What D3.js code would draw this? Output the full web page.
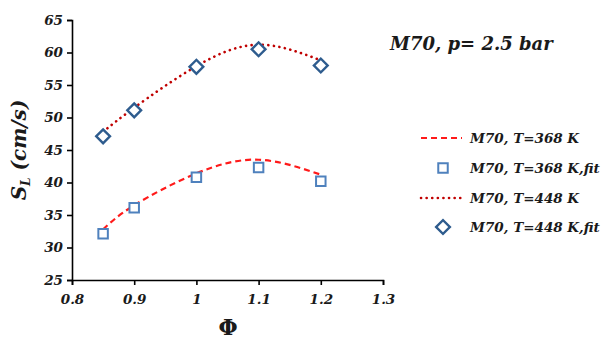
<!DOCTYPE html>
<html lang="en">
<head>
  <meta charset="UTF-8" />
  <title>M70, p = 2.5 bar</title>
  <script src="https://d3js.org/d3.v7.min.js"></script>
  <style>
    body { margin: 0; background: #fff; }
    svg text { font-family: "DejaVu Serif", serif; font-weight: bold; font-style: italic; fill: #1a1a1a; }
  </style>
</head>
<body>
  <svg id="chart" width="601" height="340"></svg>
  <script>
    // data
    const phi = [0.85, 0.9, 1.0, 1.1, 1.2];
    const fit368 = [32.8, 36.5, 41.4, 43.5, 41.2];
    const pts368 = [32.1, 36.1, 40.8, 42.3, 40.2];
    const fit448 = [47.8, 51.5, 57.9, 61.2, 58.8];
    const pts448 = [47.1, 51.1, 57.8, 60.5, 58.0];
    const xTicks = [0.8, 0.9, 1.0, 1.1, 1.2, 1.3];
    const yTicks = [25, 30, 35, 40, 45, 50, 55, 60, 65];
    const legendLabels = ["M70, T=368 K", "M70, T=368 K,fit", "M70, T=448 K", "M70, T=448 K,fit"];

    const svg = d3.select("#chart");
    const x = d3.scaleLinear().domain([0.8, 1.3]).range([72, 383]);
    const y = d3.scaleLinear().domain([25, 65]).range([280, 20]);

    // axes
    const xAxis = svg.append("g").attr("transform", "translate(0,280)")
      .call(d3.axisBottom(x).tickValues(xTicks).tickSize(5).tickFormat(d3.format("")));
    const yAxis = svg.append("g").attr("transform", "translate(72,0)")
      .call(d3.axisLeft(y).tickValues(yTicks).tickSize(5));
    [xAxis, yAxis].forEach(g => {
      g.select(".domain").attr("stroke", "#000").attr("stroke-width", 1.6);
      g.selectAll(".tick line").attr("stroke", "#000").attr("stroke-width", 1.6);
      g.selectAll(".tick text").style("font-size", "13.5px");
    });
    xAxis.selectAll(".tick text").attr("dy", "1.15em");
    yAxis.selectAll(".tick text").attr("x", -9);

    // fitted curves
    const line = d3.line().x(d => x(d[0])).y(d => y(d[1])).curve(d3.curveNatural);
    svg.append("path").datum(d3.zip(phi, fit368)).attr("d", line)
      .attr("fill", "none").attr("stroke", "#ff1a1a").attr("stroke-width", 2.2)
      .attr("stroke-dasharray", "6,4");
    svg.append("path").datum(d3.zip(phi, fit448)).attr("d", line)
      .attr("fill", "none").attr("stroke", "#c00000").attr("stroke-width", 2.6)
      .attr("stroke-dasharray", "0.1,5.5").attr("stroke-linecap", "round");

    // markers
    const square = d3.symbol().type(d3.symbolSquare).size(90);
    const diamond = d3.symbol().type(d3.symbolSquare).size(95);
    svg.append("g").selectAll("path").data(d3.zip(phi, pts368)).join("path")
      .attr("d", square)
      .attr("transform", d => `translate(${x(d[0])},${y(d[1])})`)
      .attr("fill", "#fff").attr("stroke", "#4f81bd").attr("stroke-width", 2);
    svg.append("g").selectAll("path").data(d3.zip(phi, pts448)).join("path")
      .attr("d", diamond)
      .attr("transform", d => `translate(${x(d[0])},${y(d[1])}) rotate(45)`)
      .attr("fill", "#fff").attr("stroke", "#2e5c8e").attr("stroke-width", 2.4);

    // axis titles
    const yl = svg.append("text").attr("transform", "translate(26,150) rotate(-90)")
      .attr("text-anchor", "middle").style("font-size", "20px");
    yl.append("tspan").text("S");
    yl.append("tspan").text("L").style("font-size", "12px").attr("dy", 4);
    yl.append("tspan").text(" (cm/s)").attr("dy", -4);
    svg.append("text").attr("x", 228).attr("y", 335).attr("text-anchor", "middle")
      .style("font-size", "22px").style("font-style", "normal").text("Φ");

    // title
    svg.append("text").attr("x", 390).attr("y", 50).style("font-size", "18px")
      .text("M70, p= 2.5 bar");

    // legend
    const legY = [138, 168, 198, 227];
    const leg = svg.append("g");
    leg.append("line").attr("x1", 421).attr("x2", 462).attr("y1", legY[0]).attr("y2", legY[0])
      .attr("stroke", "#ff1a1a").attr("stroke-width", 2.2).attr("stroke-dasharray", "6,4");
    leg.append("path").attr("d", square).attr("transform", `translate(443,${legY[1]})`)
      .attr("fill", "#fff").attr("stroke", "#4f81bd").attr("stroke-width", 2);
    leg.append("line").attr("x1", 421).attr("x2", 462).attr("y1", legY[2]).attr("y2", legY[2])
      .attr("stroke", "#c00000").attr("stroke-width", 2.6)
      .attr("stroke-dasharray", "0.1,5.5").attr("stroke-linecap", "round");
    leg.append("path").attr("d", diamond).attr("transform", `translate(443,${legY[3]}) rotate(45)`)
      .attr("fill", "#fff").attr("stroke", "#2e5c8e").attr("stroke-width", 2.4);
    leg.selectAll("text").data(legendLabels).join("text")
      .attr("x", 470).attr("y", (d, i) => legY[i] + 5).style("font-size", "13.5px")
      .text(d => d);
  </script>
</body>
</html>
